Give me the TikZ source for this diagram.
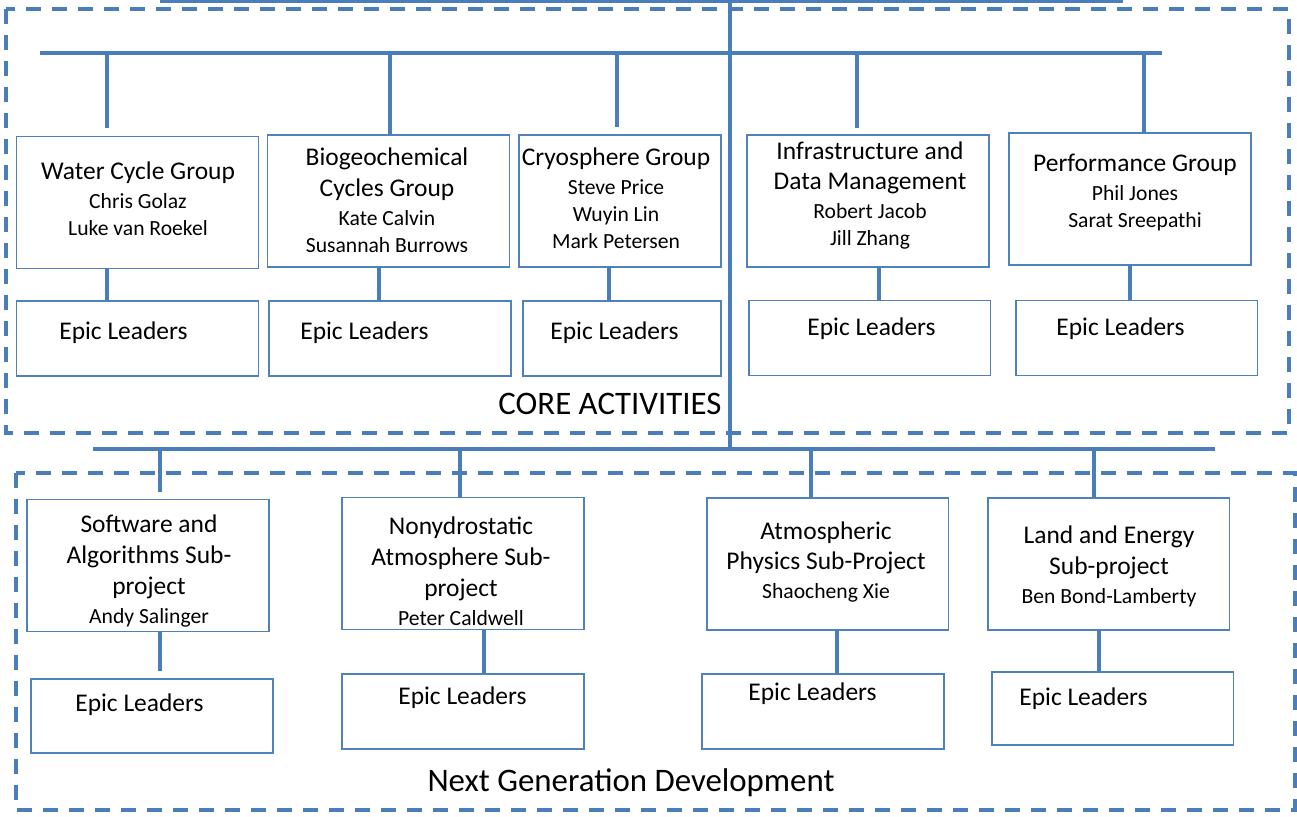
\documentclass[tikz,border=0pt]{standalone}
\usepackage{fontspec}
\setmainfont{Carlito}
\usepackage{tikz}

\definecolor{orgline}{RGB}{74,126,187}
\definecolor{orgbox}{RGB}{79,129,189}

\newcommand{\boxtitle}{\fontsize{14.5}{17.6}\selectfont}
\newcommand{\boxnames}{\fontsize{12.3}{15.4}\selectfont}
\newcommand{\areatitle}{\fontsize{18.7}{22}\selectfont}

\tikzset{
  grpbox/.style={draw=orgbox, line width=1.1pt, inner sep=0pt, outer sep=0pt,
    minimum width=4.84cm, minimum height=2.64cm},
  epicbox/.style={grpbox, minimum height=1.5cm},
  boxtext/.style={align=center, inner sep=0pt, font=\boxnames},
  epictext/.style={anchor=west, inner sep=0pt, font=\boxtitle},
  bar/.style={draw=orgline, line width=2.2pt},
  link/.style={draw=orgline, line width=2pt},
  areaframe/.style={draw=orgline, line width=2.2pt, dash pattern=on 0.3cm off 0.22cm}
}

\begin{document}
\begin{tikzpicture}[x=0.02cm, y=-0.02cm]
  \useasboundingbox (0,0) rectangle (1297,817);

  % Rammene
  \draw[areaframe] (6,9) rectangle (1289,433);
  \draw[areaframe] (16,473) rectangle (1295,810);

  % Kjerneaktiviteter
  \node[grpbox] (wcg) at (137.5,202.5) {};
  \node[grpbox] (bgc) at (388.5,201) {};
  \node[grpbox, minimum width=4.04cm] (cryo) at (620,201) {};
  \node[grpbox] (idm) at (868,201) {};
  \node[grpbox] (perf) at (1130,199) {};

  \node[boxtext] (wcgT) at (138,198.5) {{\boxtitle Water Cycle Group}\\[1.1pt]
    Chris Golaz\\ Luke van Roekel};
  \node[boxtext] (bgcT) at (387,200) {{\boxtitle Biogeochemical}\\[2.2pt]
    {\boxtitle Cycles Group}\\[1.1pt] Kate Calvin\\ Susannah Burrows};
  \node[boxtext] (cryoT) at (616,198.5) {{\boxtitle Cryosphere Group}\\[1.1pt]
    Steve Price\\ Wuyin Lin\\ Mark Petersen};
  \node[boxtext] (idmT) at (870,195.5) {{\boxtitle Infrastructure and}\\[2.2pt]
    {\boxtitle Data Management}\\[1.1pt] Robert Jacob\\ Jill Zhang};
  \node[boxtext] (perfT) at (1135,192.5) {{\boxtitle Performance Group}\\[1.1pt]
    Phil Jones\\ Sarat Sreepathi};

  \node[epicbox] (wcgE) at (137.5,338.5) {};
  \node[epicbox] (bgcE) at (390,338.5) {};
  \node[epicbox, minimum width=3.96cm] (cryoE) at (622,338.5) {};
  \node[epicbox] (idmE) at (869.5,338) {};
  \node[epicbox] (perfE) at (1136.5,338) {};

  \node[epictext] (wcgEt) at (59,333) {Epic Leaders};
  \node[epictext] (bgcEt) at (300,333) {Epic Leaders};
  \node[epictext] (cryoEt) at (550,333) {Epic Leaders};
  \node[epictext] (idmEt) at (807,329) {Epic Leaders};
  \node[epictext] (perfEt) at (1056,329) {Epic Leaders};

  \node[font=\areatitle] (coreLbl) at (610,404) {CORE ACTIVITIES};

  % Neste generasjon
  \node[grpbox] (swa) at (148,565.5) {};
  \node[grpbox] (nhy) at (463,563.5) {};
  \node[grpbox] (aph) at (827.5,564) {};
  \node[grpbox] (lae) at (1108.5,564) {};

  \node[boxtext] (swaT) at (149,571) {{\boxtitle Software and}\\[2.2pt]
    {\boxtitle Algorithms Sub-}\\[2.2pt] {\boxtitle project}\\[1.1pt] Andy Salinger};
  \node[boxtext] (nhyT) at (461,571.5) {{\boxtitle Nonydrostatic}\\[2.2pt]
    {\boxtitle Atmosphere Sub-}\\[2.2pt] {\boxtitle project}\\[1.1pt] Peter Caldwell};
  \node[boxtext] (aphT) at (826,562) {{\boxtitle Atmospheric}\\[2.2pt]
    {\boxtitle Physics Sub-Project}\\[1.1pt] Shaocheng Xie};
  \node[boxtext] (laeT) at (1109,566) {{\boxtitle Land and Energy}\\[2.2pt]
    {\boxtitle Sub-project}\\[1.1pt] Ben Bond-Lamberty};

  \node[epicbox, minimum height=1.48cm] (swaE) at (152,716) {};
  \node[epicbox] (nhyE) at (463,711.5) {};
  \node[epicbox] (aphE) at (823,711.5) {};
  \node[epicbox, minimum height=1.46cm] (laeE) at (1112.5,708.5) {};

  \node[epictext] (swaEt) at (75,705) {Epic Leaders};
  \node[epictext] (nhyEt) at (398,698) {Epic Leaders};
  \node[epictext] (aphEt) at (748,694) {Epic Leaders};
  \node[epictext] (laeEt) at (1019,699) {Epic Leaders};

  \node[font=\areatitle] (ngLbl) at (631,783) {Next Generation Development};

  % Linjene
  \coordinate (topL) at (160,1);
  \coordinate (topR) at (1123,1);
  \draw[bar] (topL) -- (topR);
  \coordinate (trunkT) at (730,0);
  \coordinate (trunkB) at (730,450);
  \draw[bar] (trunkT) -- (trunkB);

  \coordinate (coreL) at (40,53);
  \coordinate (coreR) at (1162,53);
  \draw[bar] (coreL) -- (coreR);
  \foreach \b/\x/\s in {wcg/107/0.18, bgc/390/0, cryo/617/0.16, idm/857/0.14, perf/1144/0} {
    \coordinate (k) at (\x,53);
    \draw[link, shorten >=\s cm] (k) -- (k |- \b.north);
  }
  \foreach \b/\e/\x in {wcg/wcgE/107, bgc/bgcE/379, cryo/cryoE/609, idm/idmE/879, perf/perfE/1130} {
    \coordinate (k) at (\x,0);
    \draw[link] (\b.south -| k) -- (k |- \e.north);
  }

  \coordinate (ngL) at (93,449);
  \coordinate (ngR) at (1215,449);
  \draw[bar] (ngL) -- (ngR);
  \foreach \b/\x/\s in {swa/160/0.16, nhy/460/0, aph/811/0, lae/1094/0} {
    \coordinate (k) at (\x,449);
    \draw[link, shorten >=\s cm] (k) -- (k |- \b.north);
  }
  \foreach \b/\e/\x/\s in {swa/swaE/160/0.16, nhy/nhyE/484/0, aph/aphE/837/0, lae/laeE/1099/0} {
    \coordinate (k) at (\x,0);
    \draw[link, shorten >=\s cm] (\b.south -| k) -- (k |- \e.north);
  }

\end{tikzpicture}
\end{document}
